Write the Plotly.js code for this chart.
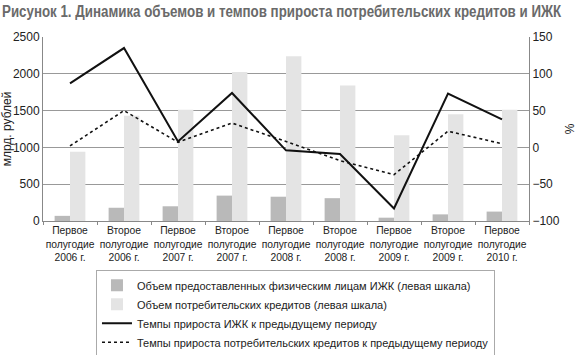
<!DOCTYPE html>
<html>
<head>
<meta charset="utf-8">
<script src="https://cdn.plot.ly/plotly-3.0.1.min.js"></script>
<style>html,body{margin:0;padding:0;background:#fff;}#chart{width:586px;height:355px;}</style>
</head>
<body>
<div id="chart"></div>
<script>
var categories = [
  "Первое<br>полугодие<br>2006 г.",
  "Второе<br>полугодие<br>2006 г.",
  "Первое<br>полугодие<br>2007 г.",
  "Второе<br>полугодие<br>2007 г.",
  "Первое<br>полугодие<br>2008 г.",
  "Второе<br>полугодие<br>2008 г.",
  "Первое<br>полугодие<br>2009 г.",
  "Второе<br>полугодие<br>2009 г.",
  "Первое<br>полугодие<br>2010 г."
];
var ijkVolume = [70, 180, 200, 345, 330, 310, 45, 90, 128];
var consumerVolume = [940, 1430, 1510, 2025, 2240, 1840, 1165, 1450, 1510];
var ijkGrowth = [87, 135, 8, 74, -4, -9, -83, 73, 38];
var consumerGrowth = [2, 50, 7, 33, 8, -18, -37, 22, 5];

var FONT = "'Liberation Sans', Arial, sans-serif";

var data = [
  {type: 'bar', x: categories, y: ijkVolume, name: 'Объем предоставленных физическим лицам ИЖК (левая шкала)',
   marker: {color: '#b9b9b9'}, yaxis: 'y'},
  {type: 'bar', x: categories, y: consumerVolume, name: 'Объем потребительских кредитов (левая шкала)',
   marker: {color: '#e4e4e4'}, yaxis: 'y'},
  {type: 'scatter', mode: 'lines', x: categories, y: ijkGrowth, name: 'Темпы прироста ИЖК к предыдущему периоду',
   line: {color: '#111', width: 2}, yaxis: 'y2'},
  {type: 'scatter', mode: 'lines', x: categories, y: consumerGrowth, name: 'Темпы прироста потребительских кредитов к предыдущему периоду',
   line: {color: '#111', width: 1.6, dash: 'dot'}, yaxis: 'y2'}
];

var layout = {
  width: 586, height: 355,
  margin: {l: 43, r: 57, t: 37, b: 134, autoexpand: false},
  paper_bgcolor: '#fff', plot_bgcolor: '#fff',
  font: {family: FONT, size: 12, color: '#222'},
  title: {text: '<b>Рисунок 1. Динамика объемов и темпов прироста потребительских кредитов и ИЖК</b>',
          font: {family: FONT, size: 17, color: '#6a6a6a'}, x: 0.004, xanchor: 'left', y: 0.968, yanchor: 'middle', xref: 'paper', automargin: false},
  barmode: 'group', bargap: 0.43, bargroupgap: 0,
  showlegend: true,
  legend: {x: 0.109, y: -0.265, xanchor: 'left', yanchor: 'top', bordercolor: '#aaa', borderwidth: 1,
           font: {family: FONT, size: 11, color: '#222'}, tracegroupgap: 0, itemwidth: 30, traceorder: 'normal'},
  xaxis: {type: 'category', showgrid: false, showline: true, linecolor: '#888', ticks: 'outside', ticklen: 3,
          tickcolor: '#888', tickangle: 0, automargin: false,
          tickfont: {family: FONT, size: 10.3, color: '#222'}, tickson: 'boundaries'},
  yaxis: {range: [0, 2500], dtick: 500, showgrid: true, gridcolor: '#999', gridwidth: 1, showline: true,
          linecolor: '#888', ticks: '', zeroline: false, automargin: false,
          tickfont: {family: FONT, size: 12, color: '#222'},
          title: {text: 'млрд. рублей', font: {family: FONT, size: 12, color: '#222'}, standoff: 5}},
  yaxis2: {range: [-100, 150], dtick: 50, overlaying: 'y', side: 'right', showgrid: false, zeroline: false,
           showline: true, linecolor: '#888', ticks: '', automargin: false,
           tickfont: {family: FONT, size: 12, color: '#222'},
           title: {text: '%', font: {family: FONT, size: 12, color: '#222'}, standoff: 6}}
};

Plotly.newPlot('chart', data, layout, {displayModeBar: false, staticPlot: true}).then(function(gd){
  // fit the condensed title into the width used by the original figure
  var t = gd.querySelector('.gtitle');
  if (t) {
    var bb = t.getBBox();
    var target = 560;
    var s = Math.min(1, target / bb.width);
    var x0 = bb.x;
    t.setAttribute('transform', 'translate(' + (2 - x0 * s) + ',0) scale(' + s + ',1)');
  }
});
</script>
</body>
</html>
